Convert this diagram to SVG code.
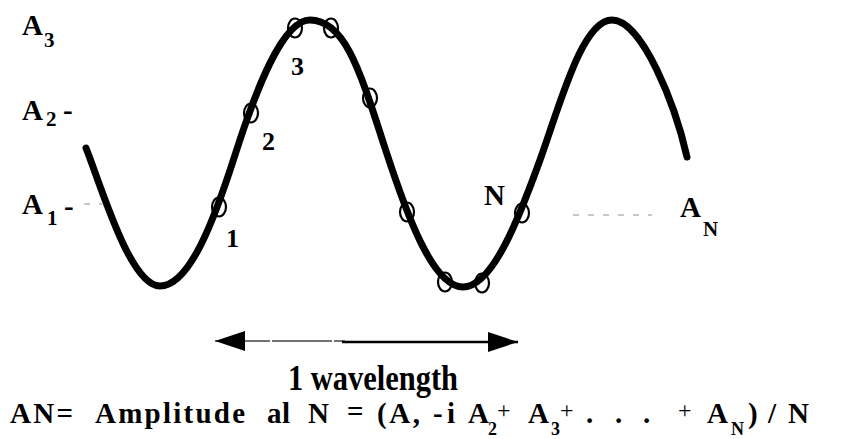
<svg xmlns="http://www.w3.org/2000/svg" width="843" height="439" viewBox="0 0 843 439">
<style>
text{font-family:"Liberation Serif","Times New Roman",serif;font-weight:bold;fill:#000}
.lbl{font-size:29px}
.sub{font-size:21px}
.num{font-size:26px}
.f{font-size:29px}
.fs{font-size:18px}
.plus{font-size:24px;font-weight:normal}
.wave{fill:none;stroke:#000;stroke-width:7;stroke-linecap:round;stroke-linejoin:round}
.pt{fill:none;stroke:#000;stroke-width:2.2}
.faint{stroke:#b5b5b5;stroke-width:1.5;stroke-dasharray:6 9;fill:none}
</style>
<defs>
<marker id="head" viewBox="0 0 30 20" refX="30" refY="10" markerWidth="30" markerHeight="20" markerUnits="userSpaceOnUse" orient="auto-start-reverse">
<path d="M0,0 L30,10 L0,20 z" fill="#000"/>
</marker>
</defs>
<rect width="843" height="439" fill="#fff"/>

<g id="wave">
<path class="wave" d="M86,148 C101,185.5 130,286 160,286 C190,286 215,217.6 235,155 C255,92.4 282,20 310,20 C345,20 360,71 385,148 C407,215.8 433,287 463,287 C493,287 520,215.2 540,160 C560,104.8 582,20 612,20 C642,20 675,104 687,157"/>
</g>

<g id="points">
<ellipse class="pt" cx="219" cy="207" rx="7" ry="9.5"/>
<ellipse class="pt" cx="251" cy="113" rx="7" ry="9.5"/>
<ellipse class="pt" cx="295" cy="28" rx="7" ry="9.5"/>
<ellipse class="pt" cx="331" cy="28" rx="7" ry="9.5"/>
<ellipse class="pt" cx="370" cy="98" rx="7" ry="9.5"/>
<ellipse class="pt" cx="407" cy="212" rx="7" ry="9.5"/>
<ellipse class="pt" cx="445" cy="282" rx="7" ry="9.5"/>
<ellipse class="pt" cx="482" cy="283" rx="7" ry="9.5"/>
<ellipse class="pt" cx="522" cy="213" rx="7" ry="9.5"/>
</g>

<g id="axis-labels">
<text class="lbl" x="22" y="35">A</text><text class="sub" x="44" y="47">3</text>
<text class="lbl" x="22" y="120">A</text><text class="sub" x="46" y="126">2</text><text class="lbl" x="63" y="120">-</text>
<text class="lbl" x="22" y="214">A</text><text class="sub" x="47" y="225">1</text><text class="lbl" x="64" y="216">-</text>
<line class="faint" x1="84" y1="204" x2="102" y2="204"/>
<line class="faint" x1="573" y1="215" x2="652" y2="215"/>
<text class="lbl" x="680" y="217">A</text><text class="sub" x="703" y="236">N</text>
</g>

<g id="point-labels">
<text class="num" x="226" y="247">1</text>
<text class="num" x="262" y="150">2</text>
<text class="num" x="291" y="75">3</text>
<text class="lbl" x="484" y="205">N</text>
</g>

<g id="connectors">
<line x1="215" y1="341" x2="345" y2="341" stroke="#444" stroke-width="1.6" stroke-dasharray="12 3 40 2 60 2" marker-start="url(#head)"/>
<line x1="342" y1="342" x2="518" y2="342" stroke="#000" stroke-width="2.6" marker-end="url(#head)"/>
</g>

<g id="wavelength-label">
<text x="288" y="390" font-size="36" textLength="170" lengthAdjust="spacingAndGlyphs">1 wavelength</text>
</g>

<g id="formula">
<text class="f" x="10" y="423" textLength="63" lengthAdjust="spacing">AN=</text>
<text class="f" x="95" y="423" textLength="150" lengthAdjust="spacing">Amplitude</text>
<text class="f" x="267" y="423" textLength="23" lengthAdjust="spacing">al</text>
<text class="f" x="308" y="423">N</text>
<text class="f" x="347" y="421">=</text>
<text class="f" x="377" y="423" textLength="43" lengthAdjust="spacing">(A,</text>
<text class="f" x="433" y="423" textLength="22" lengthAdjust="spacing">-i</text>
<text class="f" x="468" y="423">A</text><text class="fs" x="488" y="435">2</text>
<text class="plus" x="497" y="418">+</text>
<text class="f" x="528" y="423">A</text><text class="fs" x="551" y="435">3</text>
<text class="plus" x="560" y="418">+</text>
<text class="f" x="586" y="423">.</text>
<text class="f" x="615" y="423">.</text>
<text class="f" x="643" y="423">.</text>
<text class="plus" x="678" y="418">+</text>
<text class="f" x="707" y="423">A</text><text class="fs" x="731" y="435">N</text>
<text class="f" x="748" y="423">)</text>
<text class="f" x="768" y="423">/</text>
<text class="f" x="788" y="423">N</text>
</g>
</svg>
